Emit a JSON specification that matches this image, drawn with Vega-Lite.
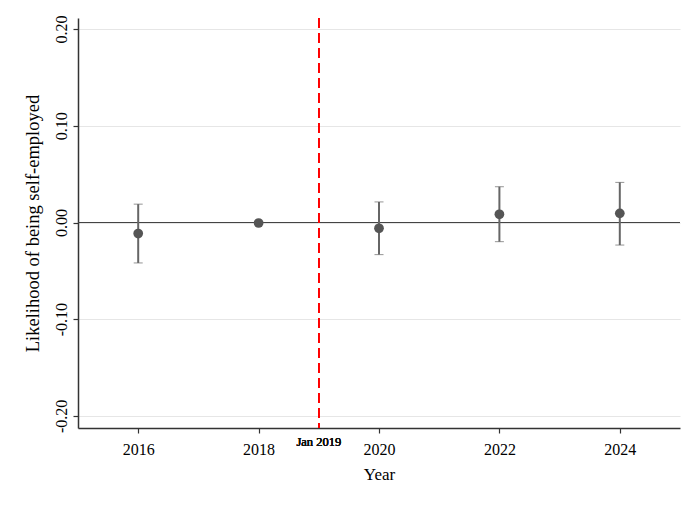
{
  "$schema": "https://vega.github.io/schema/vega-lite/v6.json",
  "width": 602,
  "height": 410,
  "autosize": {"type": "none"},
  "padding": {"left": 78, "top": 18, "right": 18, "bottom": 79},
  "background": "white",
  "config": {
    "view": {"stroke": null},
    "font": "Liberation Serif",
    "axis": {
      "labelFont": "Liberation Serif",
      "titleFont": "Liberation Serif",
      "labelColor": "black",
      "titleColor": "black",
      "titleFontWeight": "normal",
      "domainColor": "#333",
      "tickColor": "#333",
      "domainWidth": 1.5,
      "tickWidth": 1.2,
      "tickSize": 5
    }
  },
  "data": {
    "values": [
      {"year": 2016, "est": -0.0114, "lo": -0.0418, "hi": 0.0190},
      {"year": 2018, "est": -0.0005, "lo": null, "hi": null},
      {"year": 2020, "est": -0.0060, "lo": -0.0332, "hi": 0.0213},
      {"year": 2022, "est": 0.0085, "lo": -0.0198, "hi": 0.0370},
      {"year": 2024, "est": 0.0095, "lo": -0.0233, "hi": 0.0415}
    ]
  },
  "layer": [
    {
      "mark": {"type": "rule", "color": "#444", "strokeWidth": 1.2},
      "encoding": {"y": {"datum": 0, "type": "quantitative"}}
    },
    {
      "mark": {"type": "rule", "color": "red", "strokeWidth": 1.5, "strokeDash": [10, 5]},
      "encoding": {"x": {"datum": 2019, "type": "quantitative"}}
    },
    {
      "mark": {"type": "text", "fontSize": 12.5, "font": "Liberation Serif", "fontWeight": 400, "fill": "#111", "baseline": "middle", "align": "center", "clip": false},
      "encoding": {
        "x": {"datum": 2019, "type": "quantitative"},
        "y": {"datum": -0.2268, "type": "quantitative"},
        "text": {"value": "Jan 2019"}
      }
    },
    {
      "transform": [{"filter": "datum.lo != null"}],
      "mark": {"type": "errorbar", "ticks": {"size": 9, "color": "#666", "strokeWidth": 2}, "rule": {"color": "#666", "strokeWidth": 2}},
      "encoding": {
        "x": {"field": "year", "type": "quantitative"},
        "y": {"field": "lo", "type": "quantitative", "title": "Likelihood of being self-employed"},
        "y2": {"field": "hi"}
      }
    },
    {
      "mark": {"type": "point", "filled": true, "shape": "circle", "size": 95, "color": "#555", "opacity": 1},
      "encoding": {
        "x": {
          "field": "year",
          "type": "quantitative",
          "scale": {"domain": [2015, 2025], "nice": false, "zero": false},
          "axis": {
            "title": "Year",
            "values": [2016, 2018, 2020, 2022, 2024],
            "format": "d",
            "grid": false,
            "labelFontSize": 16,
            "titleFontSize": 17,
            "labelPadding": 8,
            "titlePadding": 9
          }
        },
        "y": {
          "field": "est",
          "type": "quantitative",
          "title": "Likelihood of being self-employed",
          "scale": {"domain": [-0.2125, 0.2115], "nice": false, "zero": false},
          "axis": {
            "title": "Likelihood of being self-employed",
            "values": [-0.2, -0.1, 0, 0.1, 0.2],
            "labelExpr": "replace(format(datum.value, '.2f'), '\u2212', '-')",
            "labelAngle": -90,
            "labelAlign": "center",
            "labelBaseline": "bottom",
            "labelFontSize": 16,
            "titleFontSize": 18.5,
            "labelPadding": 4,
            "titlePadding": 11,
            "grid": true,
            "gridColor": "#e6e6e6",
            "gridWidth": 1.2
          }
        }
      }
    }
  ]
}
